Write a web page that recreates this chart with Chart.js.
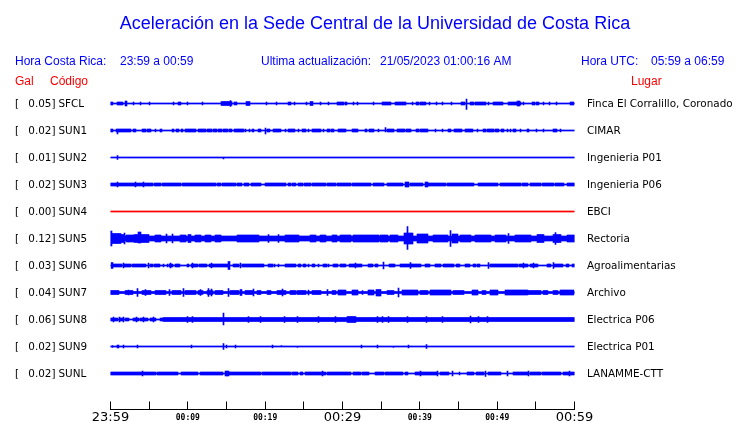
<!DOCTYPE html>
<html>
<head>
<meta charset="utf-8">
<script src="https://cdn.jsdelivr.net/npm/chart.js@4.4.0/dist/chart.umd.min.js"></script>
<style>
  html, body { margin: 0; padding: 0; background: #fff; }
  #wrap { width: 740px; height: 423px; position: relative; }
</style>
</head>
<body>
<div id="wrap"><canvas id="sismo"></canvas></div>
<script>
// station list, peak acceleration (gal) and site names
const stations = ['SFCL', 'SUN1', 'SUN2', 'SUN3', 'SUN4', 'SUN5', 'SUN6', 'SUN7', 'SUN8', 'SUN9', 'SUNL'];
const peakGal = ['0.05', '0.02', '0.01', '0.02', '0.00', '0.12', '0.03', '0.04', '0.06', '0.02', '0.02'];
const places = ['Finca El Corralillo, Coronado', 'CIMAR', 'Ingenieria P01', 'Ingenieria P06', 'EBCI', 'Rectoria',
  'Agroalimentarias', 'Archivo', 'Electrica P06', 'Electrica P01', 'LANAMME-CTT'];
const tickLabels = ['23:59', '00:09', '00:19', '00:29', '00:39', '00:49', '00:59'];

// envelope of each record: 464 bins over the hour, background noise level
const BINS = 464;
const noise = [0.5, 0.5, 0.5, 0.5, 0.5, 2.5, 0.5, 1, 0.5, 0.5, 0.5];

// bursts: [firstBin, lastBin, amplitudeUp, amplitudeDown(optional)]
const burstsSFCL = [[0,2,1.5],[7,12,1.5],[15,16,2.5],[23,23,1.5],[30,30,1.5],[39,39,1.5],[63,63,1.5],[68,70,1.5],
  [77,77,1.5],[92,92,1.5],[111,121,2],[120,120,3],[124,126,1.5],[136,139,2],[156,156,1.5],[166,166,1.5],[178,180,1.5],
  [184,184,1.5],[196,196,1.5],[200,202,2],[210,210,1.5],[218,218,1.5],[227,233,1.5],[235,236,1.5],[243,243,1.5],
  [247,247,1.5],[263,263,1.5],[272,280,1.5],[285,295,1.5],[302,302,1.5],[306,308,1.5],[310,315,1.5],[319,319,1.5],
  [326,326,1.5],[332,332,1.5],[341,341,1.5],[351,354,1.5],[356,356,4.5,6],[360,363,1.5],[365,375,1.5],[378,378,1.5],
  [383,392,1.5],[398,410,1.5],[407,409,2.5],[413,413,1.5],[422,424,1.5],[426,428,1.5],[433,433,1.5],[439,439,1.5],
  [446,446,1.5],[460,463,1.5]];
const burstsSUN1 = [[0,2,1.5],[6,17,1.5],[7,7,1.5,3.5],[18,20,1.5],[23,25,1.5],[32,35,1.5],[37,40,1.5],[45,45,1.5],
  [50,51,1.5],[62,63,1.5],[66,68,1.5],[71,72,1.5],[75,85,1.5],[88,95,1.5],[97,101,1.5],[103,106,1.5],[108,111,1.5],
  [113,117,1.5],[119,121,1.5],[124,127,1.5],[128,133,1.5],[135,135,1.5],[139,139,1.5],[142,143,1.5],[148,150,1.5],
  [155,155,2.5,3.5],[157,159,1.5],[163,170,1.5],[175,175,1.5],[178,184,1.5],[188,188,1.5],[192,195,1.5],[198,198,1.5],
  [202,210,1.5],[213,213,1.5],[217,219,1.5],[221,223,1.5],[228,235,1.5],[242,247,1.5],[255,256,1.5],[259,263,1.5],
  [268,268,1.5],[275,275,3,1.5],[277,283,1.5],[287,294,1.5],[296,300,1.5],[306,308,1.5],[310,317,1.5],[325,325,1.5],
  [332,332,1.5],[338,340,1.5],[344,351,1.5],[355,362,1.5],[367,367,1.5],[373,375,1.5],[377,383,1.5],[385,388,1.5],
  [391,393,1.5],[397,397,1.5],[400,400,1.5],[403,405,1.5],[410,410,1.5],[417,418,1.5],[426,426,1.5],[433,433,1.5],
  [443,446,1.5],[450,450,1.5]];
const burstsSUN2 = [[7,7,2],[113,113,0.5,1.5]];
const burstsSUN3 = [[0,42,1.5],[7,7,2.5],[25,25,2.5],[33,33,2.5],[44,50,1.5],[52,62,1.5],[63,70,1.5],[72,87,1.5],
  [88,105,1.5],[107,110,1.5],[112,125,1.5],[127,131,1.5],[134,138,1.5],[141,150,1.5],[155,162,1.5],[163,175,1.5],
  [178,180,1.5],[182,185,1.5],[188,192,1.5],[194,200,1.5],[202,215,1.5],[217,225,1.5],[227,240,1.5],[242,260,1.5],
  [263,273,1.5],[277,292,1.5],[295,298,2.5],[300,312,1.5],[315,317,2.5],[318,335,1.5],[337,357,1.5],[358,363,1.5],
  [368,377,1.5],[378,387,1.5],[390,397,1.5],[398,410,1.5],[412,417,1.5],[420,430,1.5],[432,443,1.5],[445,453,1.5],
  [457,464,1.5]];
const burstsSUN4 = [];
const burstsSUN5 = [[0,1,7.5],[2,10,5],[11,14,4],[14,14,5.5],[16,24,3.5],[24,38,4],[28,30,6.5,4.5],[45,50,3.5],
  [56,56,4.5],[62,62,4.5],[70,75,3.5],[78,80,4],[85,90,3.5],[95,100,3.5],[105,110,3.5],[127,148,3.5],[158,158,4],
  [168,168,4],[175,188,3.5],[200,205,3.5],[210,215,3.5],[222,226,3.5],[230,240,3.5],[243,268,3.5],[270,277,3.5],
  [280,287,3.5],[294,302,5.5],[297,297,12,11],[307,317,4.5],[323,337,3.5],[340,340,8],[342,347,4.5],[350,360,3.5],
  [365,380,3.5],[385,395,3.5],[398,398,5],[405,420,3.5],[427,433,4],[443,450,4],[445,445,6],[457,464,3.5]];
const burstsSUN6 = [[1,2,3],[3,11,1.5],[13,13,2.5],[14,20,1.5],[22,27,1.5],[28,35,1.5],[38,38,2.5],[40,42,1.5],
  [44,49,1.5],[53,53,1.5],[57,57,1.5],[59,62,1.5],[60,60,2.5],[65,69,1.5],[77,78,1.5],[81,87,1.5],[82,82,2.5],
  [89,96,1.5],[99,118,1.5],[101,101,2.5],[118,119,4],[123,128,1.5],[130,130,2.5],[132,142,1.5],[143,153,1.5],
  [158,162,1.5],[164,164,1.5],[168,168,1.5],[175,185,1.5],[188,190,1.5],[193,195,1.5],[198,198,1.5],[202,204,1.5],
  [208,208,1.5],[213,216,1.5],[218,218,1.5],[223,227,1.5],[230,235,1.5],[239,242,1.5],[243,251,1.5],[245,245,2.5],
  [258,262,1.5],[265,267,1.5],[273,273,3.5],[279,284,1.5],[290,310,1.5],[300,300,3],[315,319,1.5],[325,330,1.5],
  [333,343,1.5],[346,349,1.5],[355,359,1.5],[363,365,1.5],[367,369,1.5],[378,378,3],[380,402,1.5],[403,407,1.5],
  [409,417,1.5],[413,413,2.5],[420,427,1.5],[423,423,2.5],[437,440,1.5],[443,452,1.5],[443,443,3],[456,458,1.5],
  [462,464,1.5]];
const burstsSUN7 = [[0,8,2],[15,22,2],[18,18,2.5],[27,27,4],[32,40,2],[35,35,3],[45,55,2],[59,59,3],[62,70,2],
  [73,73,4],[75,85,2],[88,92,2],[90,90,3],[97,102,2],[98,98,4],[101,101,3.5],[105,112,2],[118,118,4],[120,128,2],
  [130,131,3],[135,143,2],[143,143,3.5],[147,150,2],[157,160,2],[167,175,2],[172,172,3.5],[180,185,2],[187,195,2],
  [198,198,2.5],[202,210,2],[217,217,3],[222,225,2],[228,235,2.5],[242,247,2.5],[252,252,2],[258,263,2.5],
  [266,270,3,3.5],[277,283,2],[288,288,4.5],[292,307,2.5],[310,317,2],[320,340,2.5],[343,353,2],[362,367,2.5],
  [372,375,2],[380,387,2.5],[395,417,2.5],[418,430,2],[433,437,2],[443,447,2],[450,463,2.5]];
const burstsSUN8 = [[0,7,1.5],[3,3,2.5],[9,9,2.5],[10,13,1.5],[13,13,2.5],[15,18,1.5],[23,28,1.5],[26,26,2.5],
  [30,37,1.5],[33,33,2.5],[40,45,1.5],[43,43,2.5],[50,52,1.5],[53,464,2],[77,77,3],[82,82,3],[113,113,6.5,5.5],
  [138,138,3],[150,150,3],[174,174,3],[187,187,3],[208,208,3],[225,225,3],[237,245,3],[267,267,3],[272,272,3],
  [278,278,3],[297,297,3],[316,316,3],[332,332,3],[360,360,3.5],[368,368,3],[377,377,3]];
const burstsSUN9 = [[2,2,1],[7,8,1.5],[13,13,1.5],[27,27,1.5],[81,81,1.5],[113,113,3],[116,116,1.5],[125,125,1.5],
  [162,162,1.5],[171,171,1,0.5],[187,187,0.5,1],[251,251,1.5],[267,267,1.5],[283,283,0.5,1],[298,298,1.5],[316,316,2]];
const burstsSUNL = [[0,17,1.5],[18,32,1.5],[32,32,2.5],[33,45,1.5],[47,62,1.5],[63,67,1.5],[71,87,1.5],[90,112,1.5],
  [115,118,2.5],[118,150,1.5],[152,180,1.5],[182,187,1.5],[190,192,1.5],[195,215,1.5],[212,212,2.5],[217,240,1.5],
  [243,250,1.5],[252,258,1.5],[265,273,1.5],[275,292,1.5],[295,297,1.5],[305,327,1.5],[310,310,2.5],[327,327,2.5],
  [330,338,1.5],[342,342,2.5],[349,349,1.5],[357,363,1.5],[366,373,1.5],[375,375,2.5,3],[378,390,1.5],[397,397,2.5],
  [403,417,1.5],[418,418,2.5],[420,430,1.5],[432,450,1.5],[453,464,1.5],[459,459,2.5]];

const bursts = [burstsSFCL, burstsSUN1, burstsSUN2, burstsSUN3, burstsSUN4, burstsSUN5,
  burstsSUN6, burstsSUN7, burstsSUN8, burstsSUN9, burstsSUNL];

const ROW = 27;              // spacing between records
const MIN_PER_BIN = 60 / BINS;

function traceData(i) {
  const up = new Array(BINS + 1).fill(noise[i]);
  const dn = new Array(BINS + 1).fill(noise[i]);
  bursts[i].forEach(b => {
    const u = b[2], d = b.length > 3 ? b[3] : b[2];
    for (let k = b[0]; k <= b[1]; k++) {
      up[k] = Math.max(up[k], u);
      dn[k] = Math.max(dn[k], d);
    }
  });
  const off = -i * ROW;
  return up.map((u, k) => ({ x: k * MIN_PER_BIN, y: [off - dn[k], off + u] }));
}

const datasets = stations.map((s, i) => ({
  label: s,
  data: traceData(i),
  backgroundColor: s === 'SUN4' ? '#ff0000' : '#0000ff',
  borderWidth: 0,
  barThickness: 1,
  grouped: false
}));

// header and station texts
const textPlugin = {
  id: 'texts',
  afterDraw(chart) {
    const ctx = chart.ctx;
    const y = chart.scales.y;
    ctx.save();
    ctx.textBaseline = 'alphabetic';
    ctx.fillStyle = '#0000ff';
    ctx.font = '18px "Liberation Sans", Arial, sans-serif';
    ctx.textAlign = 'center';
    ctx.fillText('Aceleración en la Sede Central de la Universidad de Costa Rica', 375, 29);
    ctx.textAlign = 'left';
    ctx.font = '12px "Liberation Sans", Arial, sans-serif';
    ctx.fillText('Hora Costa Rica:', 15, 65);
    ctx.fillText('23:59 a 00:59', 120, 65);
    ctx.fillText('Ultima actualización:', 261, 65);
    ctx.fillText('21/05/2023 01:00:16 AM', 380, 65);
    ctx.fillText('Hora UTC:', 581, 65);
    ctx.fillText('05:59 a 06:59', 651, 65);
    ctx.fillStyle = '#ff0000';
    ctx.fillText('Gal', 15, 85);
    ctx.fillText('Código', 50, 85);
    ctx.fillText('Lugar', 631, 85);

    ctx.fillStyle = '#000';
    ctx.font = '10.4px "DejaVu Sans", sans-serif';
    stations.forEach((s, i) => {
      const py = y.getPixelForValue(-i * ROW) + 3.5;
      ctx.textAlign = 'left';
      ctx.fillText('[', 15, py);
      ctx.textAlign = 'right';
      ctx.fillText(peakGal[i] + ']', 55.5, py);
      ctx.textAlign = 'left';
      ctx.fillText(s, 58.5, py);
      ctx.fillText(places[i], 587, py);
    });
    ctx.restore();
  }
};

new Chart(document.getElementById('sismo'), {
  type: 'bar',
  data: { datasets: datasets },
  options: {
    responsive: true,
    maintainAspectRatio: false,
    animation: false,
    layout: { padding: { top: 89.5, left: 110.5, right: 165.5, bottom: 0 } },
    plugins: { legend: { display: false }, tooltip: { enabled: false } },
    scales: {
      x: {
        type: 'linear',
        min: 0,
        max: 60,
        offset: false,
        afterFit: s => { s.height = 13.5; },
        grid: { display: true, offset: false, drawOnChartArea: false, drawTicks: true, tickLength: -8, color: '#000', lineWidth: 1 },
        border: { display: true, color: '#000', width: 1 },
        ticks: {
          stepSize: 5,
          autoSkip: false,
          maxRotation: 0,
          padding: 9,
          color: '#000',
          callback: v => (v % 10 === 0 ? tickLabels[v / 10] : ''),
          font: c => (c.tick && c.tick.value % 30 === 0)
            ? { family: 'DejaVu Sans', size: 13, lineHeight: '14px' }
            : { family: 'DejaVu Sans Mono', size: 8, weight: 'bold', lineHeight: '14px' }
        }
      },
      y: { type: 'linear', display: false, min: -306, max: 14 }
    }
  },
  plugins: [textPlugin]
});
</script>
</body>
</html>
